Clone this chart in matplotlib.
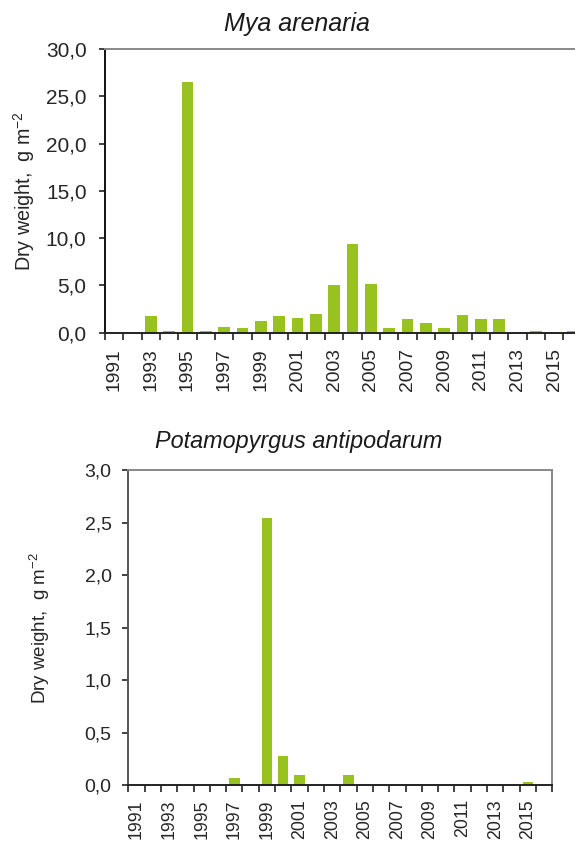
import matplotlib
matplotlib.use('Agg')
import matplotlib.pyplot as plt
from matplotlib.ticker import FuncFormatter, FixedLocator

years = list(range(1991, 2017))

# dry weight, g m-2
mya = [0, 0, 1.75, 0.2, 26.5, 0.2, 0.63, 0.5, 1.2, 1.75, 1.6, 2.0, 5.0,
       9.35, 5.2, 0.5, 1.47, 1.05, 0.5, 1.86, 1.47, 1.47, 0, 0.2, 0, 0.2]
potamo = [0, 0, 0, 0, 0, 0, 0.07, 0, 2.54, 0.28, 0.1, 0, 0, 0.1, 0, 0,
          0, 0, 0, 0, 0, 0, 0, 0, 0.03, 0]

plt.rcParams['font.family'] = ['Liberation Sans', 'DejaVu Sans']
plt.rcParams['mathtext.fontset'] = 'custom'
plt.rcParams['mathtext.rm'] = 'Liberation Sans'
plt.rcParams['mathtext.it'] = 'Liberation Sans:italic'

bar_color = '#98C21F'
text_color = '#262626'

fig = plt.figure(figsize=(5.75, 8.46), dpi=100)
ax1 = fig.add_axes([105 / 575, 1 - 332.7 / 846, 476.6 / 575, 283.7 / 846])
ax2 = fig.add_axes([128.3 / 575, 1 - 785.3 / 846, 424 / 575, 315.3 / 846])


def comma(v, pos):
    return f'{v:.1f}'.replace('.', ',')


def style(ax, values, ymax, ystep, title, tsize, tpad, ysize, ypad,
          xsize, xpad, ylab_size, ylab_x, spine_left):
    x = range(len(years))
    ax.bar(x, values, width=0.64, color=bar_color, zorder=2)
    ax.set_xlim(-0.5, len(years) - 0.5)
    ax.set_ylim(0, ymax)
    ax.set_yticks([i * ystep for i in range(7)])
    ax.yaxis.set_major_formatter(FuncFormatter(comma))
    # category boundary ticks, year labels on odd years
    ax.xaxis.set_major_locator(FixedLocator([i - 0.5 for i in range(len(years) + 1)]))
    ax.xaxis.set_major_formatter(FuncFormatter(lambda v, p: ''))
    ax.xaxis.set_minor_locator(FixedLocator([i for i, y in enumerate(years) if y % 2 == 1]))
    ax.set_xticklabels([str(y) for y in years if y % 2 == 1], minor=True,
                       rotation=90, color=text_color, fontsize=xsize)
    ax.tick_params(axis='x', which='major', length=4.8, width=1.2, color='#222222', direction='out')
    ax.tick_params(axis='x', which='minor', length=0, pad=xpad)
    ax.tick_params(axis='y', length=4.3, width=1.2, color='#222222', labelsize=ysize,
                   labelcolor=text_color, pad=ypad)
    ax.spines['left'].set_color(spine_left)
    ax.spines['left'].set_linewidth(1.4)
    ax.spines['bottom'].set_color('#222222')
    ax.spines['bottom'].set_linewidth(1.4)
    ax.spines['top'].set_color('#888888')
    ax.spines['top'].set_linewidth(1.4)
    ax.spines['right'].set_color('#888888')
    ax.spines['right'].set_linewidth(1.4)
    ax.set_title(title, style='italic', fontsize=tsize, color='#1a1a1a', pad=tpad)
    ax.set_ylabel('Dry weight,  g m$^{-2}$', fontsize=ylab_size, color=text_color)
    ax.yaxis.set_label_coords(ylab_x, 0.5)


style(ax1, mya, 30, 5, 'Mya arenaria', 18, 13, 15, 9, 13.9, 11, 14.2,
      (37 - 105) / 476.6, '#111111')
style(ax2, potamo, 3, 0.5, 'Potamopyrgus antipodarum', 16.8, 16, 14, 7.7, 12.8, 10, 13.5,
      (52 - 128.3) / 424, '#555555')

ax1.title.set_position((((297 - 105) / 476.6), 1.0))
ax2.title.set_position((((299 - 128.3) / 424), 1.0))

fig.savefig('out.png', dpi=100)
